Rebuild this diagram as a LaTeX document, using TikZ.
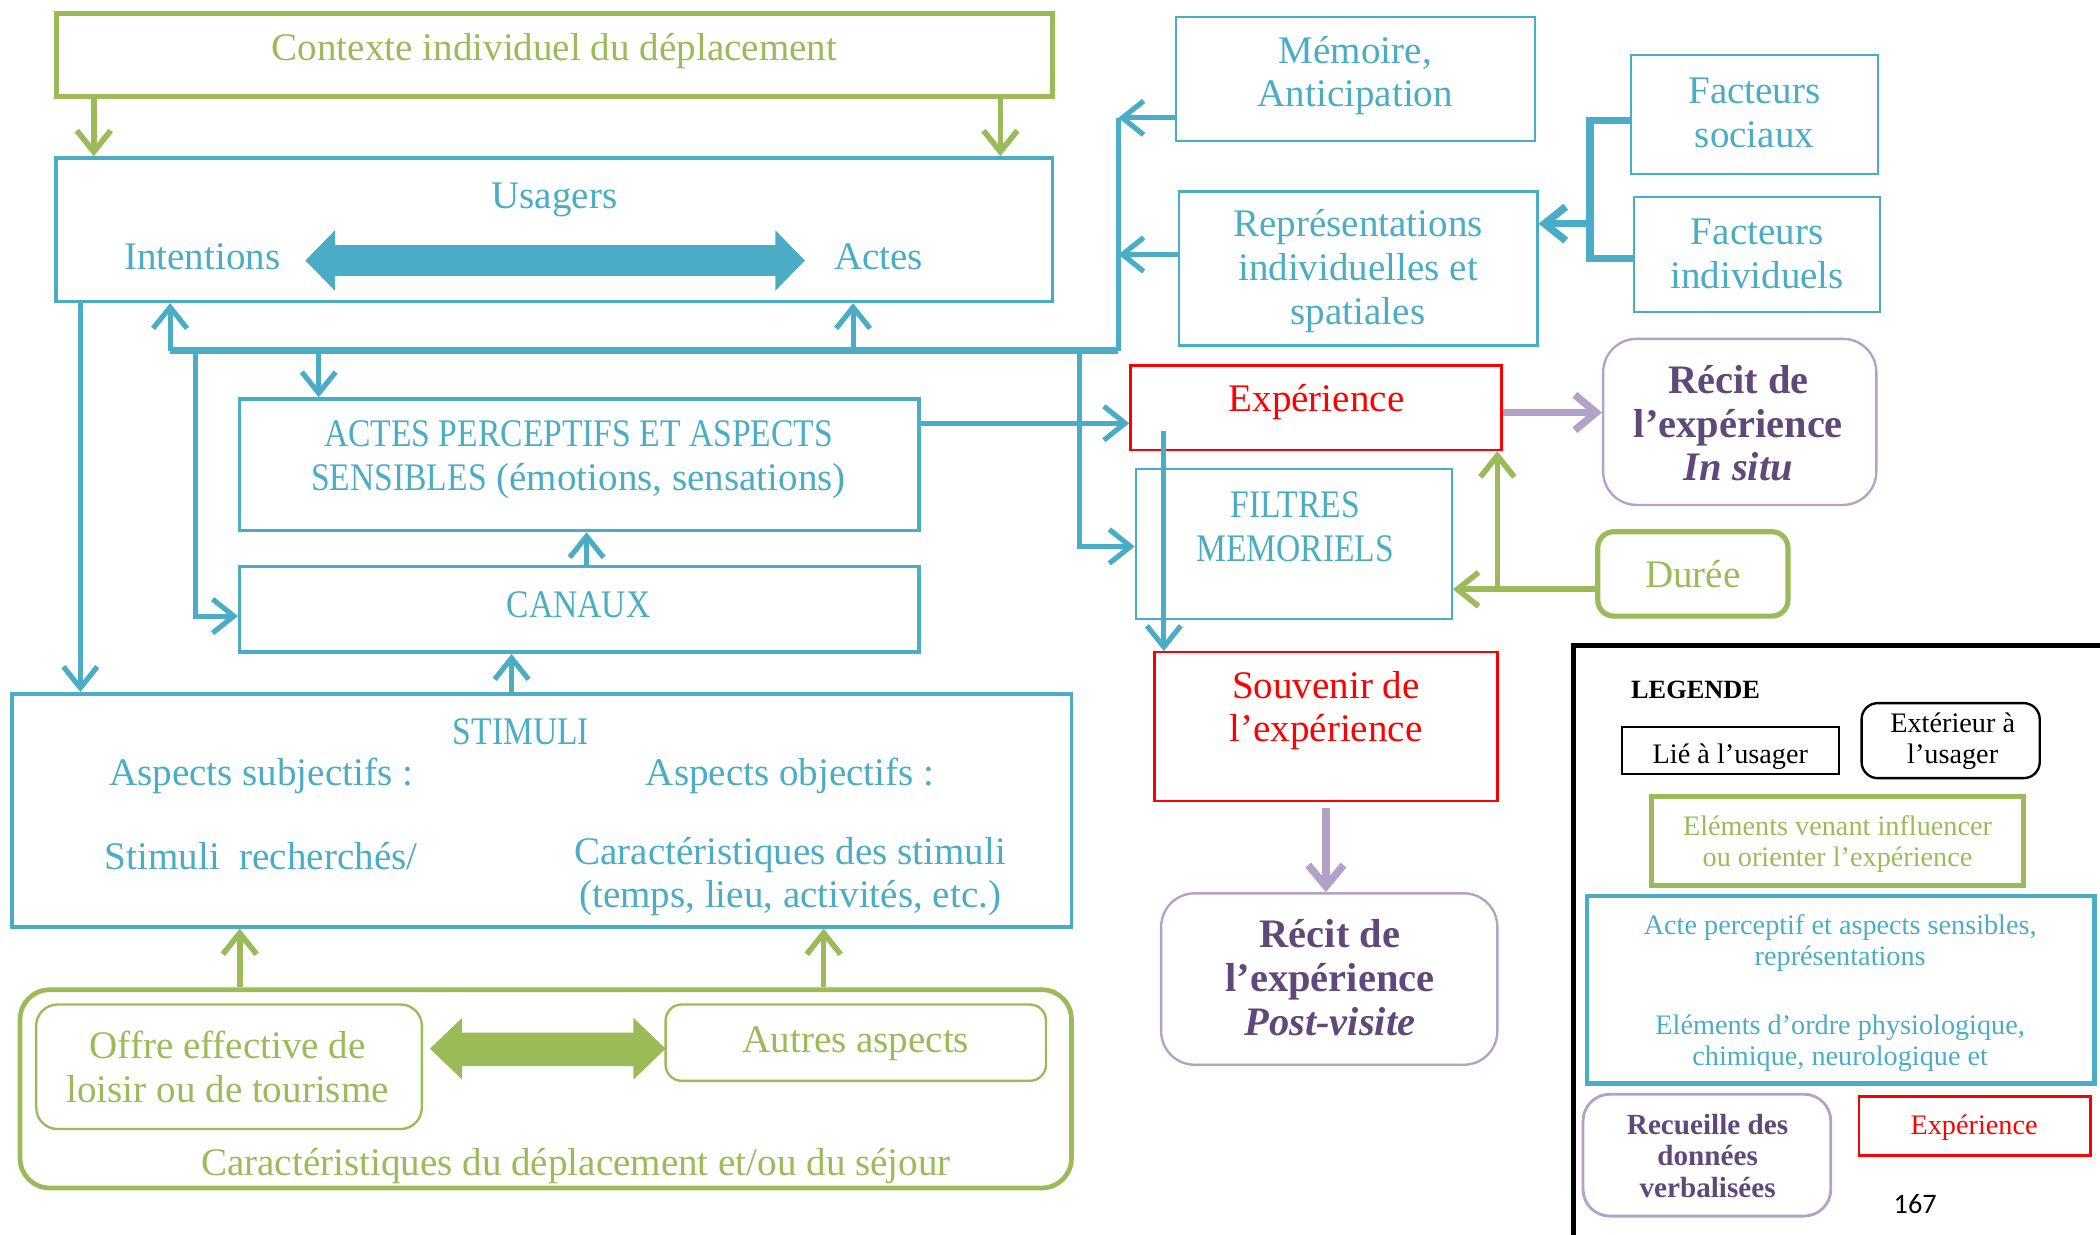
\documentclass[tikz,border=0pt]{standalone}
\usepackage{fontspec}
\setmainfont{Liberation Serif}
\newfontfamily\capsfont[FakeStretch=0.86]{Liberation Serif}
\newfontfamily\calib{Carlito}
\usetikzlibrary{arrows.meta,fit}
\definecolor{cblue}{HTML}{4BACC6}
\definecolor{cgreen}{HTML}{9BBB59}
\definecolor{cpur}{HTML}{B3A2C7}
\definecolor{cpurtxt}{HTML}{5F497A}
\definecolor{cred}{HTML}{FF0000}
\tikzset{
  bbox/.style={draw=cblue, line width=0.75pt, inner sep=0pt},
  bthin/.style={draw=cblue, line width=0.45pt, inner sep=0pt},
  gthick/.style={draw=cgreen, line width=1.1pt, inner sep=0pt},
  gthin/.style={draw=cgreen, line width=0.5pt, inner sep=0pt},
  rbox/.style={draw=cred, line width=0.5pt, inner sep=0pt},
  pbox/.style={draw=cpur, line width=0.5pt, inner sep=0pt, rounded corners=2.5mm},
  kbox/.style={draw=black, line width=0.5pt, inner sep=0pt},
  mt/.style={font=\fontsize{8.3}{9.3}\selectfont, align=center, inner sep=0pt, yshift=-0.25mm},
  bt/.style={mt, text=cblue},
  bct/.style={bt, font=\capsfont\fontsize{8.3}{9.3}\selectfont},
  gt/.style={mt, text=cgreen},
  rt/.style={mt, text=cred},
  pt/.style={font=\bfseries\fontsize{8.6}{9.3}\selectfont, align=center, inner sep=0pt, text=cpurtxt},
  lt/.style={font=\fontsize{6}{6.6}\selectfont, align=center, inner sep=0pt, yshift=-0.22mm},
  tipb/.tip={Straight Barb[length=4.5pt,width=7.2pt]},
  barrow/.style={draw=cblue, line width=1.1pt, -tipb},
  bline/.style={draw=cblue, line width=1.1pt},
  bbus/.style={draw=cblue, line width=1.5pt},
  bbrk/.style={draw=cblue, line width=1.6pt},
  garrow/.style={draw=cgreen, line width=1.2pt, -tipb},
  gline/.style={draw=cgreen, line width=1.3pt},
  parrow/.style={draw=cpur, line width=1.6pt, -{Straight Barb[length=4.5pt,width=7.5pt]}},
}
\begin{document}
\begin{tikzpicture}[x=0.1mm,y=-0.1mm]
\useasboundingbox (0,0) rectangle (1568,922);

% ---------- boxes ----------
\node[gthick, fit={(42,10) (786,72)}] (ctx) {};
\node[bbox, fit={(42,118) (786,225)}] (us) {};
\node[bbox, fit={(179,298) (686,396)}] (act) {};
\node[bbox, fit={(179,423) (686,487)}] (can) {};
\node[bbox, fit={(9,518) (800,692)}] (stim) {};
\node[draw=cgreen, line width=1pt, inner sep=0pt, rounded corners=2.2mm, fit={(15,739) (800,887)}] (car) {};
\node[gthin, rounded corners=1.6mm, fit={(27,750) (315,843)}] (off) {};
\node[gthin, rounded corners=1.2mm, fit={(497,750) (781,807)}] (aut) {};
\node[bthin, fit={(878,13) (1146,105)}] (mem) {};
\node[bthin, fit={(880,143) (1148,258)}] (rep) {};
\node[bthin, fit={(1218,41) (1402,130)}] (fs) {};
\node[bthin, fit={(1220,147) (1404,233)}] (fi) {};
\node[rbox, fit={(844,273) (1121,336)}] (exp) {};
\node[pbox, fit={(1197,253) (1401,377)}] (rin) {};
\node[bthin, fit={(848,350) (1084,462)}] (fil) {};
\node[draw=cgreen, line width=1.1pt, inner sep=0pt, rounded corners=1.2mm, fit={(1193,397) (1335,460)}] (dur) {};
\node[rbox, fit={(862,487) (1118,598)}] (sou) {};
\node[pbox, fit={(867,667) (1118,795)}] (rpv) {};

% ---------- texts ----------
\node[gt] (tctx) at (414,36) {Contexte individuel du déplacement};
\node[bt] (tus) at (414,147) {Usagers};
\node[bt] (tint) at (151,189) {Intentions};
\node[bt] (tact) at (656,189) {Actes};
\node[bt] (tap) at (432,341) {{\capsfont ACTES PERCEPTIFS ET ASPECTS}\\{\capsfont SENSIBLES} (émotions, sensations)};
\node[bct] (tcan) at (432,449) {CANAUX};
\node[bct] (tst) at (389,544) {STIMULI};
\node[bt] (tsub) at (195,577) {Aspects subjectifs :};
\node[bt] (tobj) at (590,577) {Aspects objectifs :};
\node[bt] (trec) at (195,637) {Stimuli\ \ recherchés/};
\node[bt] (tcs) at (590,652) {Caractéristiques des stimuli\\(temps, lieu, activités, etc.)};
\node[gt] (toff) at (170,794) {Offre effective de\\loisir ou de tourisme};
\node[gt] (taut) at (639,777) {Autres aspects};
\node[gt] (tcar) at (430,868) {Caractéristiques du déplacement et/ou du séjour};
\node[bt] (tmem) at (1012,54) {Mémoire,\\Anticipation};
\node[bt] (trep) at (1014,200) {Représentations\\individuelles et\\spatiales};
\node[bt] (tfs) at (1310,82) {Facteurs\\sociaux};
\node[bt] (tfi) at (1312,187) {Facteurs\\individuels};
\node[rt] (texp) at (983,298) {Expérience};
\node[pt] (trin) at (1298,316) {Récit de\\l’expérience\\\textit{In situ}};
\node[bct] (tfil) at (967,391) {FILTRES\\MEMORIELS};
\node[gt] (tdur) at (1264,426) {Durée};
\node[rt] (tsou) at (990,528) {Souvenir de\\l’expérience};
\node[pt] (trpv) at (993,730) {Récit de\\l’expérience\\\textit{Post-visite}};

% ---------- big double arrows ----------
\fill[cblue] (228,194.5) -- (250,172) -- (250,183) -- (579,183) -- (579,172) -- (601,194.5)
  -- (579,217) -- (579,206) -- (250,206) -- (250,217) -- cycle;
\fill[cgreen] (321,783) -- (345,760) -- (345,771) -- (473,771) -- (473,760) -- (497,783)
  -- (473,806) -- (473,796) -- (345,796) -- (345,806) -- cycle;

% ---------- connectors ----------
\draw[garrow] (ctx.south -| 70,0) -- (us.north -| 70,0);
\draw[garrow] (ctx.south -| 747,0) -- (us.north -| 747,0);

\coordinate (b1) at (127,262);
\coordinate (b2) at (835,262);
\coordinate (b3) at (637,262);
\coordinate (b4) at (238,262);
\coordinate (b5) at (146,262);
\coordinate (b6) at (806,262);
\coordinate (b7) at (835,88);
\draw[bbus] (b1) -- (b2);
\draw[barrow] (b1) -- (b1 |- us.south);
\draw[barrow] (b3) -- (b3 |- us.south);
\draw[barrow] (b4) -- (b4 |- act.north);
\draw[barrow] (b5) |- (can.west |- 0,460);
\draw[barrow] (b6) |- (fil.west |- 0,408);
\draw[bline] (b2) -- (b7);
\draw[barrow] (mem.west |- b7) -- (b7);
\draw[barrow] (rep.west |- 0,190) -- (b2 |- 0,190);
\draw[barrow] (act.east |- 0,316) -- (exp.west |- 0,316);
\draw[barrow] (us.south -| 60,0) -- (stim.north -| 60,0);
\draw[barrow] (can.north -| 438,0) -- (act.south -| 438,0);
\draw[barrow] (stim.north -| 382,0) -- (can.south -| 382,0);

\coordinate (brk) at (1187,167);
\draw[bbrk] (fs.west |- 0,90) -| (brk) |- (fi.west |- 0,193);
\draw[bbrk, -tipb] (brk) -- (rep.east |- brk);

\draw[parrow] (exp.east |- 0,308) -- (rin.west |- 0,308);
\draw[parrow, shorten <=1.2pt] (sou.south) -- (sou.south |- rpv.north);

\coordinate (dj) at (1118,440);
\draw[gline] (dur.west |- dj) -- (dj);
\draw[garrow] (dj) -- (fil.east |- dj);
\draw[garrow] (dj) -- (exp.south -| dj);

\draw[barrow] (869,322) -- (sou.north -| 869,0);

\draw[garrow] (car.north -| 179,0) -- (stim.south -| 179,0);
\draw[garrow] (car.north -| 615,0) -- (stim.south -| 615,0);

% ---------- legend ----------
\draw[line width=1pt] (1175,922) -- (1175,482) -- (1568,482);
\node[font=\bfseries\fontsize{5.6}{6.5}\selectfont, inner sep=0pt] (lleg) at (1266,515) {LEGENDE};
\node[kbox, fit={(1211,543) (1373,578)}] (llie) {};
\node[lt] (tlie) at (1292,563) {Lié à l’usager};
\node[kbox, rounded corners=1.2mm, fit={(1390,525) (1523,581)}] (lext) {};
\node[lt] (text) at (1458,551) {Extérieur à\\l’usager};
\node[draw=cgreen, line width=1.1pt, inner sep=0pt, fit={(1233,595) (1511,661)}] (lgg) {};
\node[lt, text=cgreen] (tlgg) at (1372,628) {Eléments venant influencer\\ou orienter l’expérience};
\node[draw=cblue, line width=0.95pt, inner sep=0pt, fit={(1185,669) (1564,809)}] (lgb) {};
\node[lt, text=cblue] (tlgb1) at (1374,702) {Acte perceptif et aspects sensibles,\\représentations};
\node[lt, text=cblue] (tlgb2) at (1374,777) {Eléments d’ordre physiologique,\\chimique, neurologique et};
\node[draw=cpur, line width=0.6pt, inner sep=0pt, rounded corners=2mm, fit={(1182,817) (1367,908)}] (lgp) {};
\node[font=\bfseries\fontsize{6.2}{6.7}\selectfont, align=center, inner sep=0pt, text=cpurtxt] (tlgp) at (1275,863) {Recueille des\\données\\verbalisées};
\node[draw=cred, line width=0.6pt, inner sep=0pt, fit={(1388,819) (1561,863)}] (lgr) {};
\node[lt, text=cred] (tlgr) at (1474,840) {Expérience};
\node[font=\calib\fontsize{6}{7}\selectfont, inner sep=0pt] (tnum) at (1430,899) {167};
\end{tikzpicture}
\end{document}
